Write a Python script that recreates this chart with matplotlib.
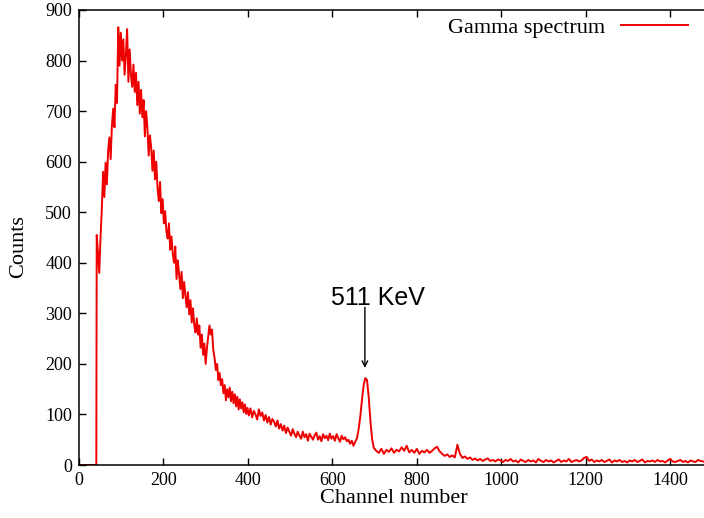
import numpy as np
import matplotlib
matplotlib.use("Agg")
import matplotlib.pyplot as plt

plt.rcParams['font.family'] = ['Liberation Serif', 'DejaVu Serif']

# MCA channels: zero region below threshold, then 3-, 4- and 6-channel steps
channel = np.concatenate([[0, 41],
                          np.arange(42, 400, 3),
                          np.arange(402, 702, 4),
                          np.arange(704, 1484, 6)])

counts_low = [0, 0]
# channels 42 .. 399 (Compton continuum and backscatter hump)
counts_hump = [
    455, 420, 380, 450, 505, 580, 530, 598, 555, 622,
    648, 605, 672, 705, 668, 752, 716, 866, 790, 855,
    800, 842, 772, 812, 862, 758, 822, 772, 748, 792,
    738, 776, 712, 758, 695, 742, 688, 722, 650, 700,
    668, 612, 652, 628, 582, 622, 565, 600, 548, 522,
    560, 498, 526, 478, 502, 462, 448, 478, 426, 452,
    418, 400, 432, 368, 405, 378, 348, 382, 330, 362,
    335, 312, 342, 298, 326, 282, 310, 276, 262, 290,
    258, 276, 232, 258, 218, 240, 200, 232, 255, 276,
    258, 268, 228, 212, 188, 200, 168, 182, 158, 170,
    142, 158, 128, 150, 134, 153, 126, 145, 122, 140,
    116, 135, 110, 130, 112, 124, 104, 120, 101, 113,
]
# channels 402 .. 698 (continuum and 511 keV photopeak)
counts_mid = [
    98, 112, 94, 107, 100, 90, 110, 97, 104, 88,
    99, 84, 95, 80, 91, 86, 76, 88, 72, 81,
    68, 78, 63, 74, 66, 58, 71, 62, 55, 66,
    58, 52, 66, 55, 61, 48, 62, 56, 50, 59,
    64, 50, 57, 47, 61, 53, 58, 49, 62, 52,
    57, 48, 61, 53, 46, 58, 51, 55, 47, 50,
    42, 48, 38, 46, 52, 70, 95, 128, 158, 172,
    168, 135, 88, 52, 34,
]
# channels 704 .. 1478
counts_tail = [
    28, 24, 32, 22, 30, 26, 33, 24, 30, 27,
    35, 28, 38, 25, 30, 24, 32, 22, 28, 25,
    30, 24, 28, 33, 36, 27, 22, 18, 21, 16,
    19, 15, 40, 22, 14, 17, 12, 15, 10, 13,
    9, 12, 8, 11, 13, 8, 10, 7, 11, 9,
    6, 10, 8, 12, 7, 9, 5, 11, 8, 6,
    10, 7, 9, 5, 12, 8, 6, 10, 7, 9,
    5, 8, 11, 6, 9, 7, 12, 6, 8, 10,
    7, 9, 14, 16, 8, 11, 6, 9, 7, 10,
    6, 8, 11, 5, 9, 7, 10, 6, 8, 5,
    9, 7, 10, 6, 8, 11, 5, 8, 7, 9,
    6, 10, 7, 8, 5, 9, 12, 7, 6, 8,
    10, 6, 8, 5, 9, 7, 6, 10, 8, 7,
]
counts = np.array(counts_low + counts_hump + counts_mid + counts_tail)

peak_channel = 677
peak_label = "511 KeV"

fig = plt.figure(figsize=(7.04, 5.18), dpi=100)
ax = fig.add_axes([0.1122, 0.1023, 1 - 0.1122, 0.8784])

ax.plot(channel, counts, color='#ee0000', lw=1.4, label='Gamma spectrum')

ax.set_xlim(0, 1480)
ax.set_ylim(0, 900)
ax.set_xticks(np.arange(0, 1401, 200))
ax.set_yticks(np.arange(0, 901, 100))
ax.tick_params(direction='in', top=True, right=False, length=5, width=1,
               labelsize=13, pad=5)
ax.spines['right'].set_visible(False)
for s in ('left', 'bottom', 'top'):
    ax.spines[s].set_linewidth(1.1)

ax.set_xlabel('Channel number', fontsize=16)
ax.set_ylabel('Counts', fontsize=16)
ax.xaxis.set_label_coords(0.504, -0.052)
ax.yaxis.set_label_coords(-0.082, 0.479)

# arrow marking the annihilation peak
ax.annotate('', xy=(peak_channel, 192), xytext=(peak_channel, 312),
            arrowprops=dict(arrowstyle='->', color='black', lw=1.0,
                            shrinkA=0, shrinkB=0))
ax.text(709, 316, peak_label, ha='center', va='baseline', fontsize=18,
        family=['Liberation Sans', 'DejaVu Sans'])

ax.legend(loc='upper right', bbox_to_anchor=(0.977, 0.967),
          bbox_transform=fig.transFigure, frameon=False, markerfirst=False,
          handlelength=3.0, handletextpad=0.7, borderpad=0, borderaxespad=0,
          fontsize=16)

fig.savefig('out.png', dpi=100)
